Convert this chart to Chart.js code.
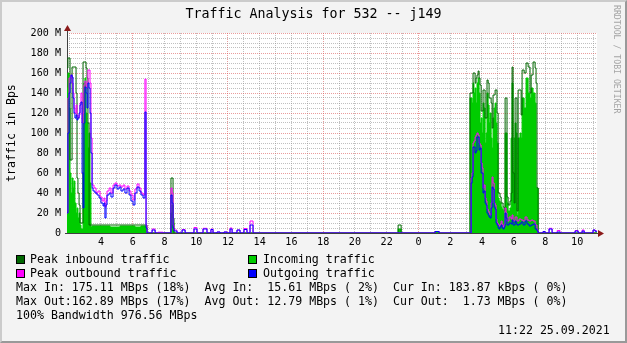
<!DOCTYPE html>
<html>
<head>
<meta charset="utf-8">
<script src="https://cdn.jsdelivr.net/npm/chart.js@4/dist/chart.umd.min.js"></script>
<style>
html, body { margin: 0; padding: 0; }
body { width: 627px; height: 343px; overflow: hidden; background: #f3f3f3; position: relative;
  font-family: "DejaVu Sans Mono", monospace; color: #000; }
#frame { position: absolute; left: 0; top: 0; width: 623px; height: 339px; border: 2px solid;
  border-color: #cbcbcb #999 #999 #cbcbcb; }
#chart { position: absolute; left: 0; top: 0; }
.t { position: absolute; white-space: pre; font-size: 11.6px; line-height: 14.2px; }
.box { position: absolute; width: 9px; height: 9px; box-sizing: border-box; border: 1px solid #000; }
#title { left: 0; width: 627px; top: 5.6px; text-align: center; font-size: 13.3px; line-height: 16px; }
#ylab { left: -38px; top: 126px; width: 98px; line-height: 14px; text-align: center; transform: rotate(-90deg); }
#mark { left: 613px; top: 5px; font-size: 8.2px; line-height: 8px; color: #a4a4a4; writing-mode: vertical-rl; }
</style>
</head>
<body>
<div id="frame"></div>
<canvas id="chart" width="627" height="343"></canvas>

<div id="title" class="t">Traffic Analysis for 532 -- j149</div>
<div id="ylab" class="t">traffic in Bps</div>
<div id="mark" class="t">RRDTOOL / TOBI OETIKER</div>

<span class="box" style="left:16px;top:255px;background:#006600"></span>
<div class="t" style="left:30px;top:251.5px">Peak inbound traffic</div>
<span class="box" style="left:248px;top:255px;background:#00cc00"></span>
<div class="t" style="left:263px;top:251.5px">Incoming traffic</div>
<span class="box" style="left:16px;top:269px;background:#ff00ff"></span>
<div class="t" style="left:30px;top:265.7px">Peak outbound traffic</div>
<span class="box" style="left:248px;top:269px;background:#0000ff"></span>
<div class="t" style="left:263px;top:265.7px">Outgoing traffic</div>
<div class="t" style="left:16px;top:279.9px">Max In: 175.11 MBps (18%)  Avg In:  15.61 MBps ( 2%)  Cur In: 183.87 kBps ( 0%)</div>
<div class="t" style="left:16px;top:294.1px">Max Out:162.89 MBps (17%)  Avg Out: 12.79 MBps ( 1%)  Cur Out:  1.73 MBps ( 0%)</div>
<div class="t" style="left:16px;top:308.3px">100% Bandwidth 976.56 MBps</div>
<div class="t" style="left:498px;top:322.5px">11:22 25.09.2021</div>

<script>
// ─── DATA (x = hours since midnight of day 1, y = MBps) ───
const xMin = 1.86, xMax = 35.25;
const hourTicks = [2,3,4,5,6,7,8,9,10,11,12,13,14,15,16,17,18,19,20,21,22,23,24,25,26,27,28,29,30,31,32,33,34,35];
const labelHours = [4,6,8,10,12,14,16,18,20,22,24,26,28,30,32,34];
const majorHours = [6,12,18,24,30];

const peakIn = [
  [1.86,165],[1.92,175],[2.05,73],[2.18,166],[2.43,140],[2.49,55],[2.55,40],[2.62,28],[2.68,10],
  [2.87,171],[3.06,165],[3.12,155],[3.18,110],[3.25,8],[6.90,0],
  [8.41,55],[8.54,15],[8.60,0],[22.72,8],[22.91,0],[25.05,1.5],[25.30,0],
  [27.25,140],[27.44,160],[27.57,150],[27.63,155],[27.69,158],[27.76,162],[27.82,155],[27.88,148],
  [27.95,122],[28.07,143],[28.20,115],[28.32,153],[28.39,150],[28.45,135],[28.58,130],[28.64,105],
  [28.70,138],[28.83,143],[28.95,120],[29.02,40],[29.14,36],[29.21,30],[29.33,26],[29.40,22],
  [29.46,135],[29.58,36],[29.65,28],[29.77,32],[29.84,40],[29.90,166],[29.96,60],[30.03,30],
  [30.09,135],[30.21,22],[30.28,143],[30.47,118],[30.53,163],[30.66,160],[30.78,170],[30.91,166],
  [31.03,140],[31.10,158],[31.22,171],[31.35,165],[31.41,150],[31.47,45],[31.54,0],[35.25,0]
];

const incoming = [
  [1.86,145],[1.92,160],[1.99,125],[2.05,60],[2.11,40],[2.18,55],[2.24,45],[2.30,52],[2.36,30],
  [2.43,20],[2.49,25],[2.55,15],[2.62,20],[2.68,8],[2.74,4],[2.87,60],[2.93,150],[2.99,155],
  [3.06,120],[3.12,110],[3.18,85],[3.25,100],[3.31,50],[3.37,6],[3.44,7],[4.57,6],[5.20,7],
  [6.14,6],[6.52,7],[6.84,0],
  [8.41,20],[8.48,28],[8.54,10],[8.60,0],[22.72,4],[22.91,0],[25.05,1],[25.30,0],
  [27.25,135],[27.38,130],[27.44,150],[27.50,140],[27.57,145],[27.63,130],[27.69,150],[27.76,155],
  [27.82,140],[27.88,110],[27.95,115],[28.01,100],[28.07,130],[28.13,125],[28.20,90],[28.26,100],
  [28.32,140],[28.39,128],[28.45,110],[28.51,120],[28.58,95],[28.64,85],[28.70,115],[28.77,125],
  [28.83,130],[28.89,110],[28.95,90],[29.02,35],[29.08,32],[29.14,30],[29.21,26],[29.27,24],
  [29.33,22],[29.40,20],[29.46,100],[29.58,30],[29.65,22],[29.77,25],[29.84,95],[29.90,150],
  [29.96,60],[30.03,95],[30.09,110],[30.15,100],[30.21,18],[30.28,95],[30.40,100],[30.47,95],
  [30.53,135],[30.66,125],[30.78,155],[30.91,140],[31.03,135],[31.10,145],[31.22,140],[31.35,130],
  [31.41,45],[31.54,0],[35.25,0]
];

const peakOut = [
  [1.86,20],[1.92,135],[1.99,155],[2.11,158],[2.18,150],[2.24,140],[2.30,125],[2.36,120],[2.43,128],
  [2.49,118],[2.55,115],[2.62,118],[2.68,130],[2.74,140],[2.81,110],[2.87,120],[2.93,148],[2.99,152],
  [3.06,145],[3.12,150],[3.18,163],[3.31,150],[3.37,95],[3.44,48],[3.56,45],[3.69,40],[3.81,42],
  [3.94,36],[4.07,32],[4.19,35],[4.25,26],[4.32,32],[4.38,42],[4.51,45],[4.63,40],[4.76,48],
  [4.88,50],[5.01,47],[5.14,48],[5.26,46],[5.39,48],[5.51,44],[5.64,47],[5.77,42],[5.89,38],
  [6.02,33],[6.14,44],[6.27,49],[6.40,45],[6.52,40],[6.65,38],[6.77,154],[6.84,8],[6.90,0],
  [7.22,4],[7.41,0],[7.59,0.8],[7.91,0],[8.41,45],[8.48,40],[8.54,8],[8.60,3],[8.79,0],
  [9.11,3.5],[9.30,0],[9.86,5.5],[10.05,0],[10.43,4.7],[10.68,0],[10.93,4],[11.06,0],
  [11.31,1],[11.50,0],[11.75,1],[11.94,0],[12.13,5],[12.26,0],[12.57,3],[12.76,0],
  [13.01,4.5],[13.20,0],[13.39,12],[13.58,0],[25.05,1.5],[25.30,0],
  [27.32,55],[27.38,60],[27.44,90],[27.50,92],[27.57,96],[27.63,98],[27.69,100],[27.76,98],
  [27.82,90],[27.88,88],[27.95,70],[28.01,65],[28.07,45],[28.13,48],[28.20,35],[28.26,32],
  [28.32,24],[28.39,22],[28.45,20],[28.51,18],[28.58,30],[28.64,56],[28.70,50],[28.77,30],
  [28.83,28],[28.89,14],[28.95,10],[29.02,8],[29.08,7],[29.14,9],[29.21,12],[29.27,8],
  [29.33,6],[29.40,9],[29.46,25],[29.52,20],[29.58,12],[29.71,16],[29.84,14],[29.90,18],
  [29.96,12],[30.09,16],[30.21,12],[30.34,14],[30.47,13],[30.59,12],[30.72,16],[30.84,13],
  [30.97,12],[31.10,13],[31.22,12],[31.35,8],[31.47,3],[31.54,0],
  [31.85,1.5],[31.98,0],[32.23,4.7],[32.42,0],[32.74,2.5],[32.92,0],[33.87,2.5],[34.06,0],
  [34.31,3],[34.44,0],[35.00,3],[35.13,2],[35.25,2]
];

const outgoing = [
  [1.86,20],[1.92,100],[1.99,140],[2.05,150],[2.11,158],[2.18,156],[2.24,135],[2.30,120],[2.36,115],
  [2.43,118],[2.49,113],[2.55,115],[2.62,120],[2.68,128],[2.74,131],[2.81,60],[2.87,25],[2.93,110],
  [2.99,146],[3.06,140],[3.12,125],[3.18,150],[3.25,145],[3.31,120],[3.37,80],[3.44,45],[3.50,42],
  [3.62,40],[3.75,38],[3.88,35],[4.00,30],[4.13,27],[4.19,30],[4.25,15],[4.32,28],[4.38,38],
  [4.51,40],[4.63,36],[4.76,45],[4.88,48],[5.01,44],[5.14,46],[5.26,42],[5.39,44],[5.51,40],
  [5.64,45],[5.77,38],[5.89,32],[6.02,28],[6.14,40],[6.27,46],[6.40,42],[6.52,38],[6.65,35],
  [6.77,121],[6.84,5],[6.90,0],
  [7.22,3],[7.41,0],[8.41,38],[8.48,30],[8.54,5],[8.60,2],[8.79,0],[9.11,3],[9.30,0],
  [9.86,4],[10.05,0],[10.43,4],[10.68,0],[10.93,3.5],[11.06,0],[11.31,1],[11.50,0],
  [11.75,1],[11.94,0],[12.13,4],[12.26,0],[12.57,3],[12.76,0],[13.01,3.5],[13.20,0],
  [13.39,8],[13.58,0],[25.05,1.5],[25.30,0],
  [27.32,50],[27.38,56],[27.44,86],[27.57,80],[27.63,82],[27.69,96],[27.82,83],[27.88,85],
  [27.95,60],[28.07,40],[28.13,42],[28.20,30],[28.26,28],[28.32,20],[28.39,18],[28.45,16],
  [28.51,15],[28.58,25],[28.64,46],[28.70,44],[28.77,26],[28.83,24],[28.89,10],[28.95,8],
  [29.02,5],[29.08,4],[29.14,6],[29.21,8],[29.27,5],[29.33,4],[29.40,6],[29.46,20],[29.52,15],
  [29.58,8],[29.71,10],[29.84,9],[29.90,13],[29.96,8],[30.09,12],[30.15,10],[30.21,8],
  [30.34,9],[30.47,11],[30.59,8],[30.72,12],[30.84,9],[30.97,7],[31.10,8],[31.22,9],
  [31.35,4],[31.47,2],[31.54,0],
  [31.85,1.4],[31.98,0],[32.23,4],[32.42,0],[32.74,1],[32.92,0],[33.87,2],[34.06,0],
  [34.31,2],[34.44,0],[35.00,3],[35.13,1.7],[35.25,1.7]
];

// ─── COLOURS ───
const minorGrid = 'rgba(140,140,140,0.55)';
const majorGrid = 'rgba(220,90,90,0.6)';
const tickFont = { family: 'DejaVu Sans Mono', size: 10.1 };

const pts = arr => arr.map(([x, y]) => ({ x, y }));

// ─── PLOT BACKGROUND + AXES WITH ARROWS ───
const rrdFrame = {
  id: 'rrdFrame',
  beforeDraw(chart) {
    const { ctx, chartArea: a } = chart;
    ctx.save();
    ctx.fillStyle = '#ffffff';
    ctx.fillRect(a.left, a.top, a.right - a.left, a.bottom - a.top);
    ctx.restore();
  },
  beforeDatasetsDraw(chart) {
    const { ctx, chartArea: a } = chart;
    ctx.save();
    ctx.strokeStyle = '#404040';
    ctx.lineWidth = 1;
    ctx.beginPath();
    ctx.moveTo(a.left + 0.5, a.bottom + 1);
    ctx.lineTo(a.left + 0.5, a.top - 4);
    ctx.moveTo(a.left - 2, a.bottom + 0.5);
    ctx.lineTo(a.right + 2, a.bottom + 0.5);
    ctx.stroke();
    ctx.fillStyle = '#8b1a1a';
    ctx.beginPath();
    ctx.moveTo(a.left + 0.5, a.top - 8);
    ctx.lineTo(a.left - 3, a.top - 2);
    ctx.lineTo(a.left + 4, a.top - 2);
    ctx.closePath();
    ctx.fill();
    ctx.beginPath();
    ctx.moveTo(a.right + 7, a.bottom + 0.5);
    ctx.lineTo(a.right + 1, a.bottom - 3);
    ctx.lineTo(a.right + 1, a.bottom + 4);
    ctx.closePath();
    ctx.fill();
    ctx.restore();
  }
};

// ─── CHART ───
new Chart(document.getElementById('chart'), {
  type: 'line',
  data: {
    datasets: [
      { label: 'Outgoing traffic', data: pts(outgoing), borderColor: '#0000ff', order: 0 },
      { label: 'Peak outbound traffic', data: pts(peakOut), borderColor: '#ff00ff', order: 1 },
      { label: 'Peak inbound traffic', data: pts(peakIn), borderColor: '#006600', order: 2 },
      { label: 'Incoming traffic', data: pts(incoming), borderColor: '#00cc00',
        backgroundColor: '#00cc00', fill: 'origin', order: 3 }
    ]
  },
  options: {
    responsive: false,
    animation: false,
    devicePixelRatio: 1,
    events: [],
    layout: { padding: { top: 33, right: 30, left: 0, bottom: 0 }, autoPadding: false },
    elements: {
      line: { stepped: true, borderWidth: 1, tension: 0, fill: false },
      point: { radius: 0 }
    },
    plugins: { legend: { display: false }, tooltip: { enabled: false } },
    scales: {
      x: {
        type: 'linear',
        min: xMin, max: xMax,
        afterFit: s => { s.height = 110; },
        afterBuildTicks: s => { s.ticks = hourTicks.map(v => ({ value: v })); },
        grid: {
          color: c => majorHours.includes(c.tick.value) ? majorGrid : minorGrid,
          drawTicks: false
        },
        border: { display: false, dash: [1, 1] },
        ticks: {
          autoSkip: false, maxRotation: 0, minRotation: 0, padding: 3,
          color: '#000', font: tickFont,
          callback: v => labelHours.includes(v) ? String(v % 24) : ''
        }
      },
      y: {
        min: 0, max: 200,
        afterFit: s => { s.width = 67; },
        grid: {
          color: c => c.tick.value % 20 === 0 ? majorGrid : minorGrid,
          drawTicks: false
        },
        border: { display: false, dash: [1, 1] },
        ticks: {
          stepSize: 5, autoSkip: false, padding: 6,
          color: '#000', font: tickFont,
          callback: v => v % 20 !== 0 ? '' : (v === 0 ? '0' : v + ' M')
        }
      }
    }
  },
  plugins: [rrdFrame]
});
</script>
</body>
</html>
